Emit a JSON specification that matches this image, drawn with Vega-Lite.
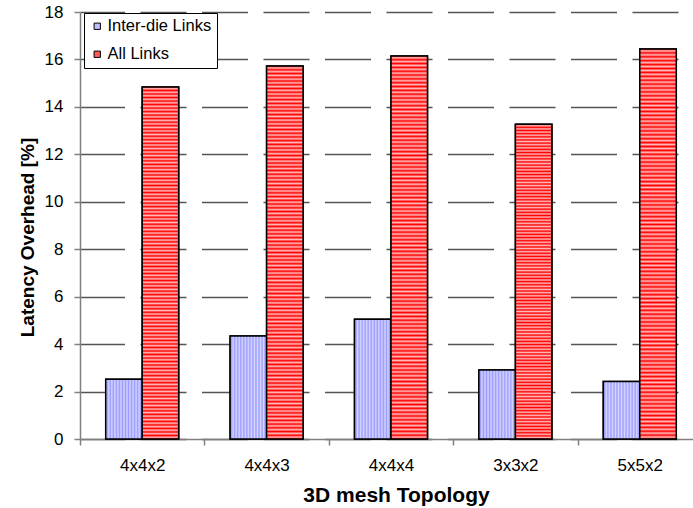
{
  "$schema": "https://vega.github.io/schema/vega-lite/v6.json",
  "width": 622,
  "height": 427,
  "autosize": {"type": "none"},
  "padding": {"left": 80, "top": 12, "right": 0, "bottom": 69},
  "config": {
    "view": {"stroke": null},
    "font": "Liberation Sans",
    "axis": {"labelFont": "Liberation Sans", "titleFont": "Liberation Sans"},
    "legend": {"labelFont": "Liberation Sans"}
  },
  "data": {
    "values": [
      {"topology": "4x4x2", "series": "Inter-die Links", "value": 2.52},
      {"topology": "4x4x2", "series": "All Links", "value": 14.84},
      {"topology": "4x4x3", "series": "Inter-die Links", "value": 4.34},
      {"topology": "4x4x3", "series": "All Links", "value": 15.72},
      {"topology": "4x4x4", "series": "Inter-die Links", "value": 5.05},
      {"topology": "4x4x4", "series": "All Links", "value": 16.15},
      {"topology": "3x3x2", "series": "Inter-die Links", "value": 2.91},
      {"topology": "3x3x2", "series": "All Links", "value": 13.27},
      {"topology": "5x5x2", "series": "Inter-die Links", "value": 2.42},
      {"topology": "5x5x2", "series": "All Links", "value": 16.44}
    ]
  },
  "encoding": {
    "x": {
      "field": "topology",
      "type": "nominal",
      "sort": ["4x4x2", "4x4x3", "4x4x4", "3x3x2", "5x5x2"],
      "scale": {"paddingInner": 0, "paddingOuter": 0},
      "axis": {
        "title": "3D mesh Topology",
        "labelAngle": 0,
        "tickBand": "extent",
        "tickSize": 6,
        "tickColor": "#808080",
        "tickWidth": 1.5,
        "domainColor": "#808080",
        "domainWidth": 1.5,
        "labelFontSize": 17,
        "labelColor": "black",
        "labelPadding": 12,
        "titleFontSize": 21,
        "titleFontWeight": "bold",
        "titleColor": "black",
        "titlePadding": 11,
        "titleX": 316
      }
    },
    "xOffset": {
      "field": "series",
      "type": "nominal",
      "sort": ["Inter-die Links", "All Links"],
      "scale": {"paddingInner": 0, "paddingOuter": 0.705}
    },
    "y": {
      "field": "value",
      "type": "quantitative",
      "scale": {"domain": [0, 18], "nice": false},
      "axis": {
        "title": "Latency Overhead [%]",
        "values": [0, 2, 4, 6, 8, 10, 12, 14, 16, 18],
        "tickSize": 6,
        "tickColor": "#808080",
        "tickWidth": 1.5,
        "domainColor": "#808080",
        "domainWidth": 1.5,
        "labelFontSize": 17,
        "labelColor": "black",
        "labelPadding": 11,
        "grid": true,
        "gridColor": "#555555",
        "gridWidth": 1.5,
        "gridDash": [46, 15.5],
        "gridDashOffset": 1.5,
        "titleFontSize": 19,
        "titleFontWeight": "bold",
        "titleColor": "black",
        "titlePadding": 7,
        "titleY": 225
      }
    }
  },
  "layer": [
    {
      "mark": {"type": "bar", "stroke": "black", "strokeWidth": 1.5},
      "encoding": {
        "color": {
          "field": "series",
          "type": "nominal",
          "sort": ["Inter-die Links", "All Links"],
          "scale": {"domain": ["Inter-die Links", "All Links"], "range": ["#bcbcff", "#ff5a5a"]},
          "legend": {
            "orient": "none",
            "legendX": 4,
            "legendY": 1,
            "title": null,
            "strokeColor": "black",
            "fillColor": "white",
            "padding": 5,
            "symbolType": "square",
            "symbolSize": 40,
            "symbolStrokeColor": "black",
            "symbolStrokeWidth": 1,
            "labelFontSize": 16.5,
            "labelColor": "black",
            "labelOffset": 2,
            "rowPadding": 11
          }
        }
      }
    },
    {
      "transform": [{"filter": "datum.series === 'Inter-die Links'"}],
      "mark": {
        "type": "bar",
        "stroke": "black",
        "strokeWidth": 1.5,
        "fill": {
          "gradient": "linear", "x1": 0, "y1": 0, "x2": 1, "y2": 0,
          "stops": [
            {"offset": 0, "color": "#d6d6ff"}, {"offset": 0.04167, "color": "#9c9cff"},
            {"offset": 0.08333, "color": "#d6d6ff"}, {"offset": 0.125, "color": "#9c9cff"},
            {"offset": 0.16667, "color": "#d6d6ff"}, {"offset": 0.20833, "color": "#9c9cff"},
            {"offset": 0.25, "color": "#d6d6ff"}, {"offset": 0.29167, "color": "#9c9cff"},
            {"offset": 0.33333, "color": "#d6d6ff"}, {"offset": 0.375, "color": "#9c9cff"},
            {"offset": 0.41667, "color": "#d6d6ff"}, {"offset": 0.45833, "color": "#9c9cff"},
            {"offset": 0.5, "color": "#d6d6ff"}, {"offset": 0.54167, "color": "#9c9cff"},
            {"offset": 0.58333, "color": "#d6d6ff"}, {"offset": 0.625, "color": "#9c9cff"},
            {"offset": 0.66667, "color": "#d6d6ff"}, {"offset": 0.70833, "color": "#9c9cff"},
            {"offset": 0.75, "color": "#d6d6ff"}, {"offset": 0.79167, "color": "#9c9cff"},
            {"offset": 0.83333, "color": "#d6d6ff"}, {"offset": 0.875, "color": "#9c9cff"},
            {"offset": 0.91667, "color": "#d6d6ff"}, {"offset": 0.95833, "color": "#9c9cff"},
            {"offset": 1, "color": "#d6d6ff"}
          ]
        }
      }
    },
    {
      "transform": [{"filter": "datum.series === 'All Links'"}],
      "mark": {
        "type": "bar",
        "stroke": "black",
        "strokeWidth": 1.5,
        "fill": {
          "gradient": "linear", "x1": 0, "y1": 0, "x2": 0, "y2": 1,
          "stops": [
            {"offset": 0, "color": "#f00"}, {"offset": 0.005, "color": "#fbb"}, {"offset": 0.01, "color": "#f00"}, {"offset": 0.015, "color": "#fbb"}, {"offset": 0.02, "color": "#f00"}, {"offset": 0.025, "color": "#fbb"}, {"offset": 0.03, "color": "#f00"}, {"offset": 0.035, "color": "#fbb"}, {"offset": 0.04, "color": "#f00"}, {"offset": 0.045, "color": "#fbb"},
            {"offset": 0.05, "color": "#f00"}, {"offset": 0.055, "color": "#fbb"}, {"offset": 0.06, "color": "#f00"}, {"offset": 0.065, "color": "#fbb"}, {"offset": 0.07, "color": "#f00"}, {"offset": 0.075, "color": "#fbb"}, {"offset": 0.08, "color": "#f00"}, {"offset": 0.085, "color": "#fbb"}, {"offset": 0.09, "color": "#f00"}, {"offset": 0.095, "color": "#fbb"},
            {"offset": 0.1, "color": "#f00"}, {"offset": 0.105, "color": "#fbb"}, {"offset": 0.11, "color": "#f00"}, {"offset": 0.115, "color": "#fbb"}, {"offset": 0.12, "color": "#f00"}, {"offset": 0.125, "color": "#fbb"}, {"offset": 0.13, "color": "#f00"}, {"offset": 0.135, "color": "#fbb"}, {"offset": 0.14, "color": "#f00"}, {"offset": 0.145, "color": "#fbb"},
            {"offset": 0.15, "color": "#f00"}, {"offset": 0.155, "color": "#fbb"}, {"offset": 0.16, "color": "#f00"}, {"offset": 0.165, "color": "#fbb"}, {"offset": 0.17, "color": "#f00"}, {"offset": 0.175, "color": "#fbb"}, {"offset": 0.18, "color": "#f00"}, {"offset": 0.185, "color": "#fbb"}, {"offset": 0.19, "color": "#f00"}, {"offset": 0.195, "color": "#fbb"},
            {"offset": 0.2, "color": "#f00"}, {"offset": 0.205, "color": "#fbb"}, {"offset": 0.21, "color": "#f00"}, {"offset": 0.215, "color": "#fbb"}, {"offset": 0.22, "color": "#f00"}, {"offset": 0.225, "color": "#fbb"}, {"offset": 0.23, "color": "#f00"}, {"offset": 0.235, "color": "#fbb"}, {"offset": 0.24, "color": "#f00"}, {"offset": 0.245, "color": "#fbb"},
            {"offset": 0.25, "color": "#f00"}, {"offset": 0.255, "color": "#fbb"}, {"offset": 0.26, "color": "#f00"}, {"offset": 0.265, "color": "#fbb"}, {"offset": 0.27, "color": "#f00"}, {"offset": 0.275, "color": "#fbb"}, {"offset": 0.28, "color": "#f00"}, {"offset": 0.285, "color": "#fbb"}, {"offset": 0.29, "color": "#f00"}, {"offset": 0.295, "color": "#fbb"},
            {"offset": 0.3, "color": "#f00"}, {"offset": 0.305, "color": "#fbb"}, {"offset": 0.31, "color": "#f00"}, {"offset": 0.315, "color": "#fbb"}, {"offset": 0.32, "color": "#f00"}, {"offset": 0.325, "color": "#fbb"}, {"offset": 0.33, "color": "#f00"}, {"offset": 0.335, "color": "#fbb"}, {"offset": 0.34, "color": "#f00"}, {"offset": 0.345, "color": "#fbb"},
            {"offset": 0.35, "color": "#f00"}, {"offset": 0.355, "color": "#fbb"}, {"offset": 0.36, "color": "#f00"}, {"offset": 0.365, "color": "#fbb"}, {"offset": 0.37, "color": "#f00"}, {"offset": 0.375, "color": "#fbb"}, {"offset": 0.38, "color": "#f00"}, {"offset": 0.385, "color": "#fbb"}, {"offset": 0.39, "color": "#f00"}, {"offset": 0.395, "color": "#fbb"},
            {"offset": 0.4, "color": "#f00"}, {"offset": 0.405, "color": "#fbb"}, {"offset": 0.41, "color": "#f00"}, {"offset": 0.415, "color": "#fbb"}, {"offset": 0.42, "color": "#f00"}, {"offset": 0.425, "color": "#fbb"}, {"offset": 0.43, "color": "#f00"}, {"offset": 0.435, "color": "#fbb"}, {"offset": 0.44, "color": "#f00"}, {"offset": 0.445, "color": "#fbb"},
            {"offset": 0.45, "color": "#f00"}, {"offset": 0.455, "color": "#fbb"}, {"offset": 0.46, "color": "#f00"}, {"offset": 0.465, "color": "#fbb"}, {"offset": 0.47, "color": "#f00"}, {"offset": 0.475, "color": "#fbb"}, {"offset": 0.48, "color": "#f00"}, {"offset": 0.485, "color": "#fbb"}, {"offset": 0.49, "color": "#f00"}, {"offset": 0.495, "color": "#fbb"},
            {"offset": 0.5, "color": "#f00"}, {"offset": 0.505, "color": "#fbb"}, {"offset": 0.51, "color": "#f00"}, {"offset": 0.515, "color": "#fbb"}, {"offset": 0.52, "color": "#f00"}, {"offset": 0.525, "color": "#fbb"}, {"offset": 0.53, "color": "#f00"}, {"offset": 0.535, "color": "#fbb"}, {"offset": 0.54, "color": "#f00"}, {"offset": 0.545, "color": "#fbb"},
            {"offset": 0.55, "color": "#f00"}, {"offset": 0.555, "color": "#fbb"}, {"offset": 0.56, "color": "#f00"}, {"offset": 0.565, "color": "#fbb"}, {"offset": 0.57, "color": "#f00"}, {"offset": 0.575, "color": "#fbb"}, {"offset": 0.58, "color": "#f00"}, {"offset": 0.585, "color": "#fbb"}, {"offset": 0.59, "color": "#f00"}, {"offset": 0.595, "color": "#fbb"},
            {"offset": 0.6, "color": "#f00"}, {"offset": 0.605, "color": "#fbb"}, {"offset": 0.61, "color": "#f00"}, {"offset": 0.615, "color": "#fbb"}, {"offset": 0.62, "color": "#f00"}, {"offset": 0.625, "color": "#fbb"}, {"offset": 0.63, "color": "#f00"}, {"offset": 0.635, "color": "#fbb"}, {"offset": 0.64, "color": "#f00"}, {"offset": 0.645, "color": "#fbb"},
            {"offset": 0.65, "color": "#f00"}, {"offset": 0.655, "color": "#fbb"}, {"offset": 0.66, "color": "#f00"}, {"offset": 0.665, "color": "#fbb"}, {"offset": 0.67, "color": "#f00"}, {"offset": 0.675, "color": "#fbb"}, {"offset": 0.68, "color": "#f00"}, {"offset": 0.685, "color": "#fbb"}, {"offset": 0.69, "color": "#f00"}, {"offset": 0.695, "color": "#fbb"},
            {"offset": 0.7, "color": "#f00"}, {"offset": 0.705, "color": "#fbb"}, {"offset": 0.71, "color": "#f00"}, {"offset": 0.715, "color": "#fbb"}, {"offset": 0.72, "color": "#f00"}, {"offset": 0.725, "color": "#fbb"}, {"offset": 0.73, "color": "#f00"}, {"offset": 0.735, "color": "#fbb"}, {"offset": 0.74, "color": "#f00"}, {"offset": 0.745, "color": "#fbb"},
            {"offset": 0.75, "color": "#f00"}, {"offset": 0.755, "color": "#fbb"}, {"offset": 0.76, "color": "#f00"}, {"offset": 0.765, "color": "#fbb"}, {"offset": 0.77, "color": "#f00"}, {"offset": 0.775, "color": "#fbb"}, {"offset": 0.78, "color": "#f00"}, {"offset": 0.785, "color": "#fbb"}, {"offset": 0.79, "color": "#f00"}, {"offset": 0.795, "color": "#fbb"},
            {"offset": 0.8, "color": "#f00"}, {"offset": 0.805, "color": "#fbb"}, {"offset": 0.81, "color": "#f00"}, {"offset": 0.815, "color": "#fbb"}, {"offset": 0.82, "color": "#f00"}, {"offset": 0.825, "color": "#fbb"}, {"offset": 0.83, "color": "#f00"}, {"offset": 0.835, "color": "#fbb"}, {"offset": 0.84, "color": "#f00"}, {"offset": 0.845, "color": "#fbb"},
            {"offset": 0.85, "color": "#f00"}, {"offset": 0.855, "color": "#fbb"}, {"offset": 0.86, "color": "#f00"}, {"offset": 0.865, "color": "#fbb"}, {"offset": 0.87, "color": "#f00"}, {"offset": 0.875, "color": "#fbb"}, {"offset": 0.88, "color": "#f00"}, {"offset": 0.885, "color": "#fbb"}, {"offset": 0.89, "color": "#f00"}, {"offset": 0.895, "color": "#fbb"},
            {"offset": 0.9, "color": "#f00"}, {"offset": 0.905, "color": "#fbb"}, {"offset": 0.91, "color": "#f00"}, {"offset": 0.915, "color": "#fbb"}, {"offset": 0.92, "color": "#f00"}, {"offset": 0.925, "color": "#fbb"}, {"offset": 0.93, "color": "#f00"}, {"offset": 0.935, "color": "#fbb"}, {"offset": 0.94, "color": "#f00"}, {"offset": 0.945, "color": "#fbb"},
            {"offset": 0.95, "color": "#f00"}, {"offset": 0.955, "color": "#fbb"}, {"offset": 0.96, "color": "#f00"}, {"offset": 0.965, "color": "#fbb"}, {"offset": 0.97, "color": "#f00"}, {"offset": 0.975, "color": "#fbb"}, {"offset": 0.98, "color": "#f00"}, {"offset": 0.985, "color": "#fbb"}, {"offset": 0.99, "color": "#f00"}, {"offset": 0.995, "color": "#fbb"},
            {"offset": 1, "color": "#f00"}
          ]
        }
      }
    }
  ]
}
